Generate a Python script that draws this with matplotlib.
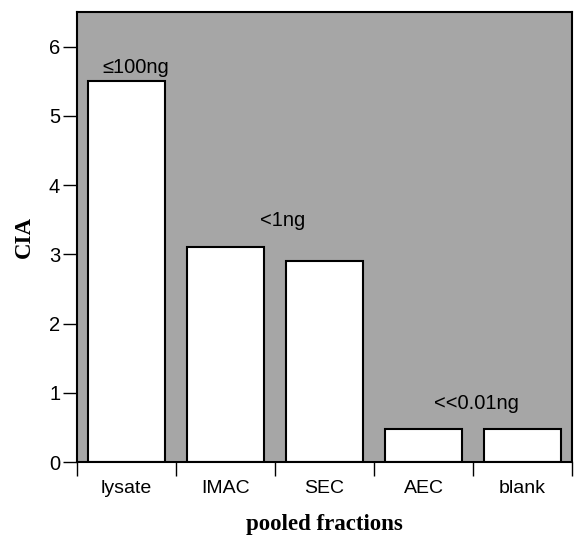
import numpy as np
import matplotlib
matplotlib.use('Agg')
import matplotlib.pyplot as plt

# data
categories = ['lysate', 'IMAC', 'SEC', 'AEC', 'blank']
cia_values = [5.5, 3.1, 2.9, 0.48, 0.48]
notes      = ['\u2264100ng', '<1ng', '<<0.01ng']
note_x     = [0.09, 1.58, 3.53]
note_y     = [5.69, 3.49, 0.84]

fig = plt.figure(figsize=(5.74, 5.41), dpi=100)
ax = fig.add_axes([0.134, 0.146, 0.8625, 0.832])
ax.set_facecolor('#a6a6a6')

x = np.arange(len(categories))
ax.bar(x, cia_values, width=0.78, color='white', edgecolor='black', linewidth=1.5, zorder=2)

for t, tx, ty in zip(notes, note_x, note_y):
    ax.text(tx, ty, t, ha='center', va='center', fontsize=14.5,
            family='Liberation Sans', zorder=3)

ax.set_xlim(-0.5, len(categories) - 0.5)
ax.set_ylim(0, 6.5)

# x ticks sit on the category boundaries, labels in between
ax.set_xticks(np.arange(-0.5, len(categories)), minor=False)
ax.set_xticklabels([])
ax.set_xticks(x, minor=True)
ax.set_xticklabels(categories, minor=True, fontsize=14, family='Liberation Sans')
ax.tick_params(axis='x', which='major', direction='out', length=10, width=1)
ax.tick_params(axis='x', which='minor', length=0, pad=13)

ax.set_yticks(range(7))
ax.set_yticklabels([str(i) for i in range(7)], fontsize=14.5, family='Liberation Sans')
ax.tick_params(axis='y', direction='out', length=10, width=1, pad=2)

for s in ax.spines.values():
    s.set_linewidth(1.5)

ax.set_ylabel('CIA', fontsize=16.5, fontweight='bold', family='Liberation Serif', labelpad=10)
ax.set_xlabel('pooled fractions', fontsize=16.5, fontweight='bold', family='Liberation Serif', labelpad=12)

fig.savefig('out.png', dpi=100)
